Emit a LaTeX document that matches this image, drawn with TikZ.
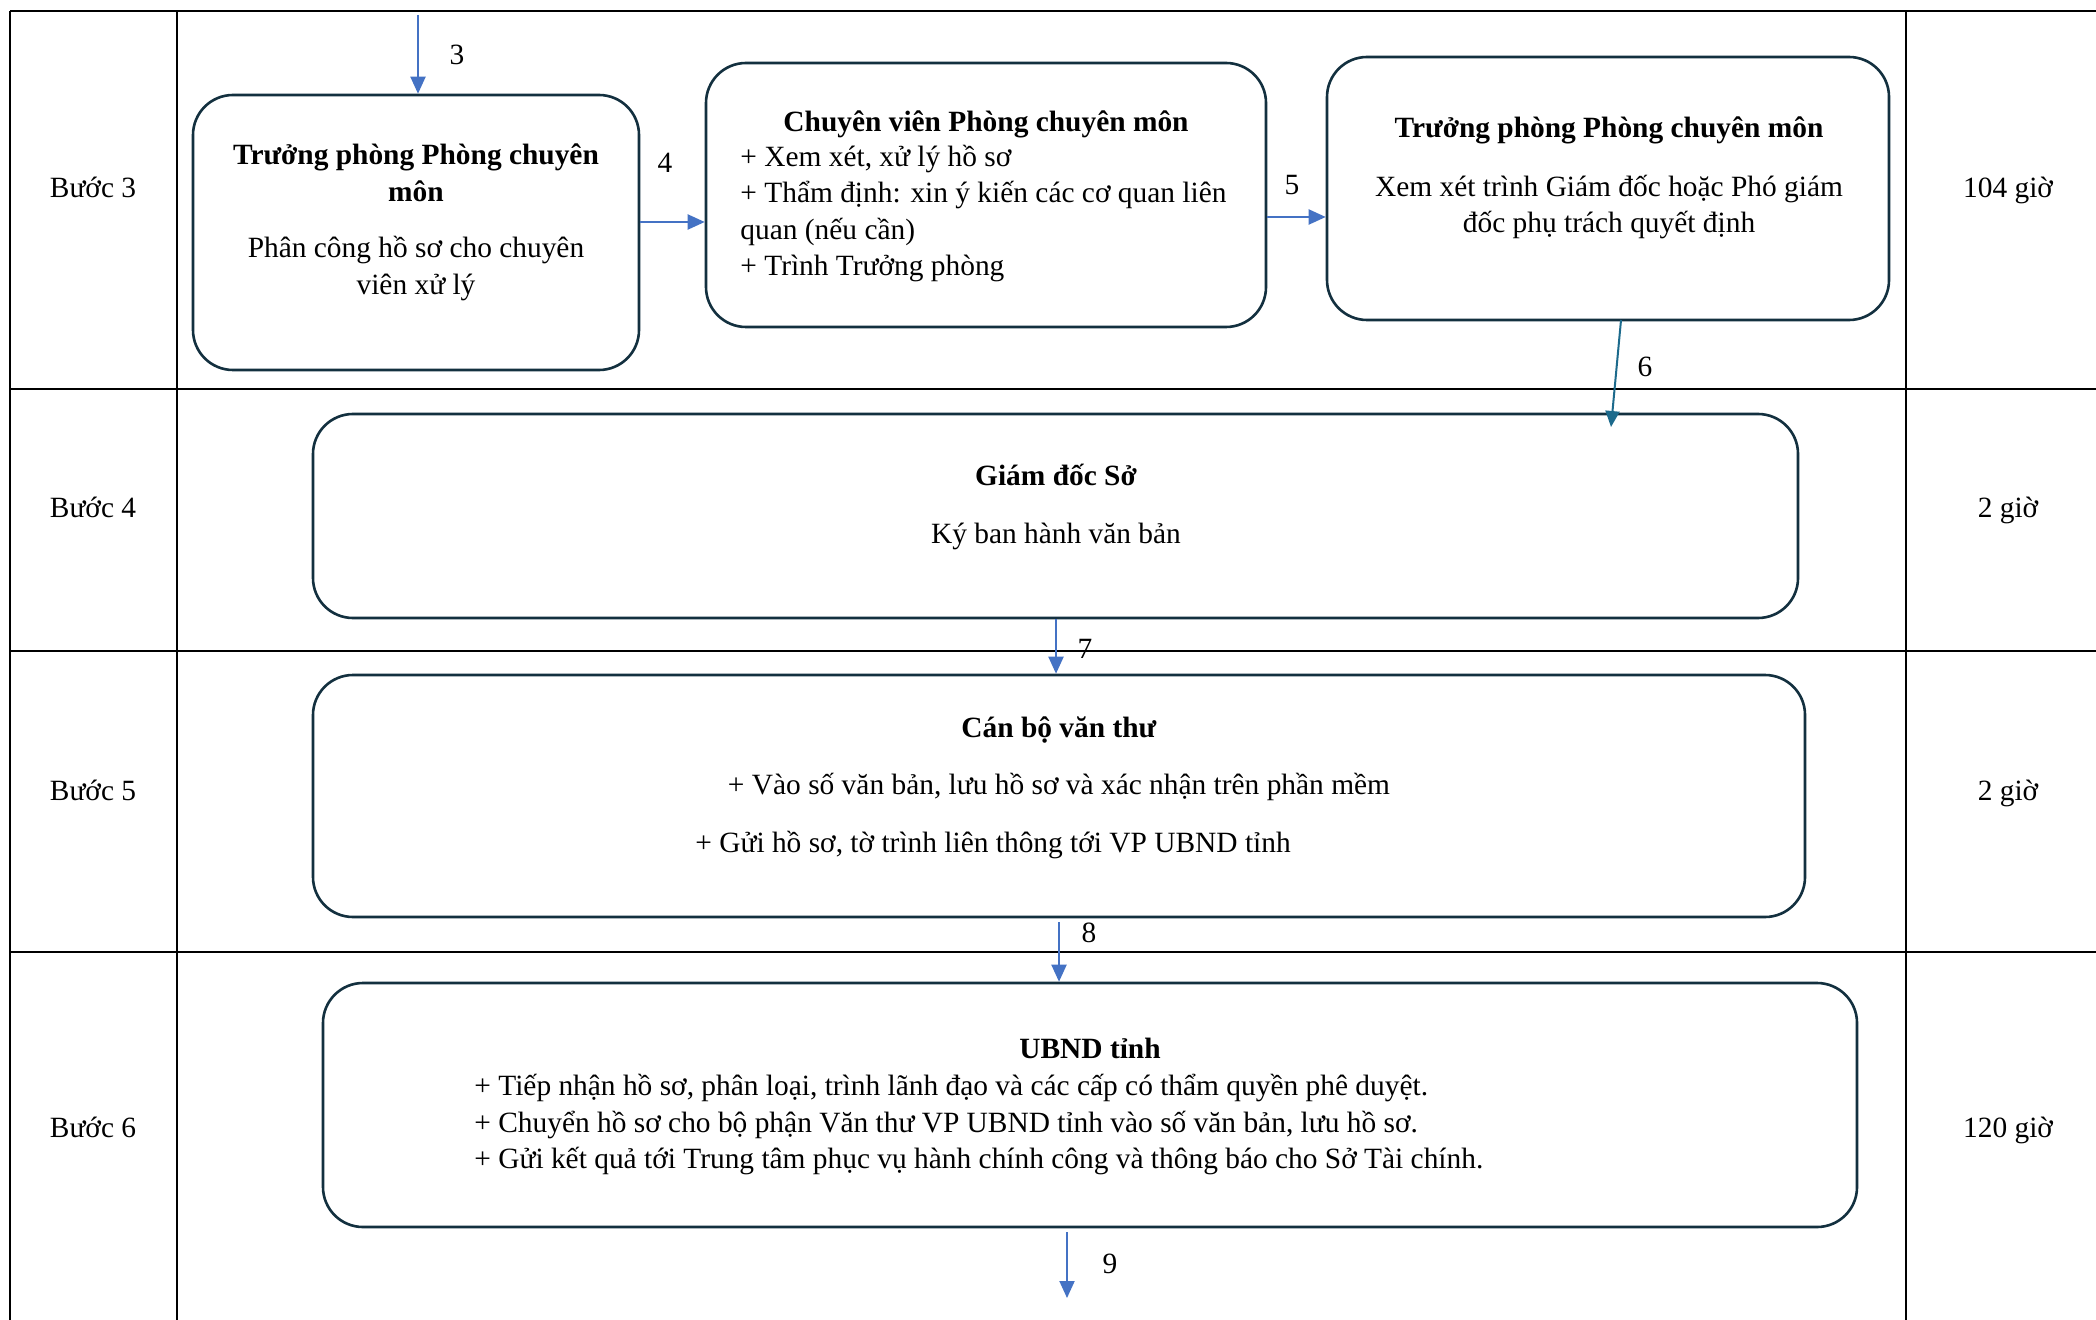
\documentclass[tikz,border=0pt]{standalone}
\usepackage{fontspec}
\setmainfont{Liberation Serif}
\usetikzlibrary{arrows.meta}
\definecolor{boxc}{HTML}{13303F}
\definecolor{arrc}{HTML}{4472C4}
\definecolor{arrsix}{HTML}{1C6A8C}
\begin{document}
\begin{tikzpicture}[x=0.5pt,y=-0.5pt,
  grid/.style={line width=1.3pt,draw=black},
  box/.style={draw=boxc,line width=1.3pt,rounded corners=20pt,inner sep=0pt},
  txt/.style={anchor=base,inner sep=0pt,font=\fontsize{14.7}{18}\selectfont},
  ltxt/.style={anchor=base west,inner sep=0pt,font=\fontsize{14.7}{18}\selectfont},
  arr/.style={draw=arrc,line width=1pt,-{Triangle[length=8.5pt,width=7.5pt]}},
  arrdark/.style={draw=arrsix,line width=1pt,-{Triangle[length=8pt,width=7pt]}}
]
\useasboundingbox (0,0) rectangle (2096,1320);
\fill[white] (0,0) rectangle (2096,1320);
% table grid
\draw[grid] (10,11) -- (2096,11);
\draw[grid] (10,389) -- (2096,389);
\draw[grid] (10,651) -- (2096,651);
\draw[grid] (10,952) -- (2096,952);
\draw[grid] (10,11) -- (10,1320);
\draw[grid] (177,11) -- (177,1320);
\draw[grid] (1906,11) -- (1906,1320);
% step labels
\node[txt] (b3) at (93,198) {Bước 3};
\node[txt] (b4) at (93,517) {Bước 4};
\node[txt] (b5) at (93,800) {Bước 5};
\node[txt] (b6) at (93,1137) {Bước 6};
\node[txt] (h3) at (2008,198) {104 giờ};
\node[txt] (h4) at (2008,517) {2 giờ};
\node[txt] (h5) at (2008,800) {2 giờ};
\node[txt] (h6) at (2008,1137) {120 giờ};
% boxes
\node[box,minimum width=223pt,minimum height=137.5pt] (A) at (416,232.5) {};
\node[box,minimum width=280pt,minimum height=132pt] (B) at (986,195) {};
\node[box,minimum width=281pt,minimum height=131.5pt] (C) at (1608,188.5) {};
\node[box,minimum width=742.5pt,minimum height=102pt] (D) at (1055.5,516) {};
\node[box,minimum width=746pt,minimum height=121pt] (E) at (1059,796) {};
\node[box,minimum width=767pt,minimum height=122pt] (F) at (1090,1105) {};
% box A text
\node[txt] (a1) at (416,165) {\textbf{Trưởng phòng Phòng chuyên}};
\node[txt] (a2) at (416,202) {\textbf{môn}};
\node[txt] (a3) at (416,258) {Phân công hồ sơ cho chuyên};
\node[txt] (a4) at (416,295) {viên xử lý};
% box B text
\node[txt] (bt) at (986,132) {\textbf{Chuyên viên Phòng chuyên môn}};
\node[ltxt] (bl1) at (740,167) {+ Xem xét, xử lý hồ sơ};
\node[ltxt] (bl2) at (740,203) {+ Thẩm định: xin ý kiến các cơ quan liên};
\node[ltxt] (bl3) at (740,240) {quan (nếu cần)};
\node[ltxt] (bl4) at (740,276) {+ Trình Trưởng phòng};
% box C text
\node[txt] (ct) at (1609,138) {\textbf{Trưởng phòng Phòng chuyên môn}};
\node[txt] (c1) at (1609,197) {Xem xét trình Giám đốc hoặc Phó giám};
\node[txt] (c2) at (1609,233) {đốc phụ trách quyết định};
% box D text
\node[txt] (dt) at (1056,485) {\textbf{Giám đốc Sở}};
\node[txt] (d1) at (1056,543) {Ký ban hành văn bản};
% box E text
\node[txt] (et) at (1059,737) {\textbf{Cán bộ văn thư}};
\node[txt] (e1) at (1059,794) {+ Vào số văn bản, lưu hồ sơ và xác nhận trên phần mềm};
\node[ltxt] (e2) at (695,852) {+ Gửi hồ sơ, tờ trình liên thông tới VP UBND tỉnh};
% box F text
\node[txt] (ft) at (1090,1058) {\textbf{UBND tỉnh}};
\node[ltxt] (f1) at (474,1095) {+ Tiếp nhận hồ sơ, phân loại, trình lãnh đạo và các cấp có thẩm quyền phê duyệt.};
\node[ltxt] (f2) at (474,1132) {+ Chuyển hồ sơ cho bộ phận Văn thư VP UBND tỉnh vào số văn bản, lưu hồ sơ.};
\node[ltxt] (f3) at (474,1168) {+ Gửi kết quả tới Trung tâm phục vụ hành chính công và thông báo cho Sở Tài chính.};
% connectors
\coordinate (s3) at (418,15);
\coordinate (y4) at (0,222);
\coordinate (y5) at (0,217);
\coordinate (s6) at (1621,320);
\coordinate (e6) at (1611,427);
\coordinate (x7) at (1056,0);
\coordinate (x8) at (1059,0);
\coordinate (x9) at (1067,0);
\coordinate (e9) at (1067,1298);
\draw[arr] (s3) -- (s3 |- A.north);
\draw[arr] (A.east |- y4) -- (B.west |- y4);
\draw[arr] (B.east |- y5) -- (C.west |- y5);
\draw[arrdark] (s6) -- (e6);
\draw[arr] (D.south -| x7) -- (E.north -| x7);
\draw[arr,shorten <=2pt] (E.south -| x8) -- (F.north -| x8);
\draw[arr,shorten <=2pt] (F.south -| x9) -- (e9);
% connector labels
\node[txt] (l3) at (457,65) {3};
\node[txt] (l4) at (665,173) {4};
\node[txt] (l5) at (1292,195) {5};
\node[txt] (l6) at (1645,377) {6};
\node[txt] (l7) at (1085,658) {7};
\node[txt] (l8) at (1089,942) {8};
\node[txt] (l9) at (1110,1273) {9};
\end{tikzpicture}
\end{document}
